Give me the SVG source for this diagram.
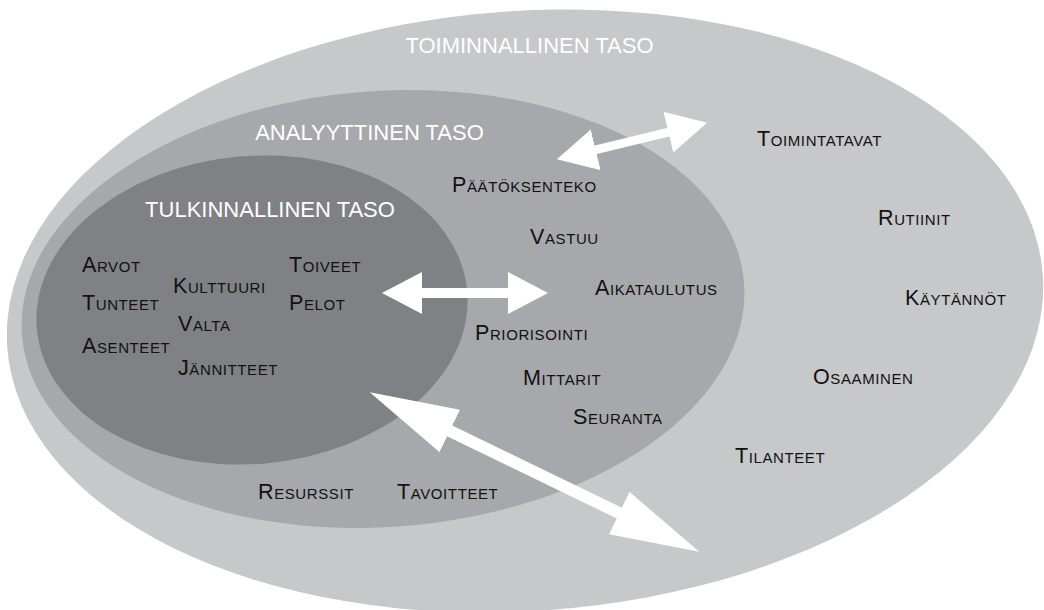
<svg xmlns="http://www.w3.org/2000/svg" width="1044" height="610" viewBox="0 0 1044 610">
<style>
.lvl{fill:#ffffff;font-family:"Liberation Sans",Arial,sans-serif;font-size:22px}
.item{fill:#111111;font-family:"Liberation Sans",Arial,sans-serif;font-size:21.5px;letter-spacing:0.6px;font-variant:small-caps}
.arrow{stroke:#ffffff;fill:none}
</style>
<defs>
<marker id="headS" markerUnits="userSpaceOnUse" viewBox="0 0 40 42" markerWidth="40" markerHeight="42" refX="3" refY="21" orient="auto-start-reverse">
<path d="M0,0 L40,21 L0,42 Z" fill="#ffffff"/>
</marker>
<marker id="headL" markerUnits="userSpaceOnUse" viewBox="0 0 89 47" markerWidth="89" markerHeight="47" refX="3" refY="23.5" orient="auto-start-reverse">
<path d="M0,0 L89,23.5 L0,47 Z" fill="#ffffff"/>
</marker>
</defs>
<rect width="1044" height="610" fill="#ffffff"/>
<g id="toiminnallinen">
<ellipse cx="525" cy="311" rx="519" ry="300" transform="rotate(-4 525 311)" fill="#c7c8ca"/>
<text class="lvl" x="529.5" y="53" text-anchor="middle">TOIMINNALLINEN TASO</text>
</g>
<g id="analyyttinen">
<ellipse cx="383" cy="309" rx="362" ry="218" transform="rotate(-4 383 309)" fill="#a7a8ab"/>
<text class="lvl" x="369.5" y="140" text-anchor="middle">ANALYYTTINEN TASO</text>
</g>
<g id="tulkinnallinen">
<ellipse cx="252" cy="310" rx="216" ry="154" transform="rotate(-5 252 310)" fill="#808185"/>
<text class="lvl" x="270" y="217" text-anchor="middle">TULKINNALLINEN TASO</text>
</g>
<g id="connectors">
<path class="arrow" stroke-width="9" d="M592.8,150.5 L671.2,131.5" marker-start="url(#headS)" marker-end="url(#headS)"/>
<path class="arrow" stroke-width="10" d="M419,293 L511,293" marker-start="url(#headS)" marker-end="url(#headS)"/>
<path class="arrow" stroke-width="12" d="M447.1,429.7 L621.9,514.3" marker-start="url(#headL)" marker-end="url(#headL)"/>
</g>
<g id="n-arvot"><text class="item" x="82" y="272">Arvot</text></g>
<g id="n-tunteet"><text class="item" x="82" y="310">Tunteet</text></g>
<g id="n-asenteet"><text class="item" x="82" y="353">Asenteet</text></g>
<g id="n-kulttuuri"><text class="item" x="173" y="293">Kulttuuri</text></g>
<g id="n-valta"><text class="item" x="178" y="331">Valta</text></g>
<g id="n-jannitteet"><text class="item" x="178" y="375">Jännitteet</text></g>
<g id="n-toiveet"><text class="item" x="289" y="272">Toiveet</text></g>
<g id="n-pelot"><text class="item" x="289" y="310">Pelot</text></g>
<g id="n-paatoksenteko"><text class="item" x="452" y="192">Päätöksenteko</text></g>
<g id="n-vastuu"><text class="item" x="530" y="244">Vastuu</text></g>
<g id="n-aikataulutus"><text class="item" x="595" y="295">Aikataulutus</text></g>
<g id="n-priorisointi"><text class="item" x="475" y="340">Priorisointi</text></g>
<g id="n-mittarit"><text class="item" x="523" y="385">Mittarit</text></g>
<g id="n-seuranta"><text class="item" x="573" y="424">Seuranta</text></g>
<g id="n-resurssit"><text class="item" x="258" y="499">Resurssit</text></g>
<g id="n-tavoitteet"><text class="item" x="397" y="499">Tavoitteet</text></g>
<g id="n-toimintatavat"><text class="item" x="757" y="146">Toimintatavat</text></g>
<g id="n-rutiinit"><text class="item" x="878" y="225">Rutiinit</text></g>
<g id="n-kaytannot"><text class="item" x="905" y="305">Käytännöt</text></g>
<g id="n-osaaminen"><text class="item" x="813" y="384">Osaaminen</text></g>
<g id="n-tilanteet"><text class="item" x="735" y="463">Tilanteet</text></g>
</svg>
